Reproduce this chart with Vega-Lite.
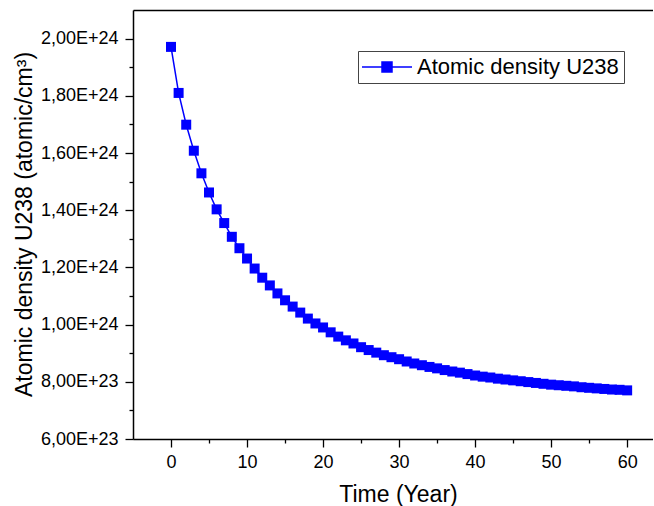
{
  "$schema": "https://vega.github.io/schema/vega-lite/v6.json",
  "width": 520,
  "height": 429,
  "autosize": {"type": "none"},
  "padding": {"left": 133, "top": 10, "right": 0, "bottom": 67},
  "background": "white",
  "view": {"stroke": "transparent", "strokeWidth": 0},
  "config": {
    "font": "Liberation Sans",
    "view": {"stroke": "transparent", "strokeWidth": 0},
    "axis": {
      "grid": false,
      "domainColor": "black",
      "domainWidth": 1.5,
      "tickColor": "black",
      "tickWidth": 1.3,
      "labelColor": "black",
      "labelFont": "Liberation Sans",
      "labelFontSize": 18,
      "titleFont": "Liberation Sans",
      "titleFontSize": 23,
      "titleFontWeight": "normal",
      "titleColor": "black"
    }
  },
  "data": {
    "values": [
      {"t": 0, "n": 1.971e24}, {"t": 1, "n": 1.810e24}, {"t": 2, "n": 1.699e24}, {"t": 3, "n": 1.608e24},
      {"t": 4, "n": 1.529e24}, {"t": 5, "n": 1.462e24}, {"t": 6, "n": 1.403e24}, {"t": 7, "n": 1.355e24},
      {"t": 8, "n": 1.307e24}, {"t": 9, "n": 1.267e24}, {"t": 10, "n": 1.231e24}, {"t": 11, "n": 1.196e24},
      {"t": 12, "n": 1.164e24}, {"t": 13, "n": 1.137e24}, {"t": 14, "n": 1.109e24}, {"t": 15, "n": 1.085e24},
      {"t": 16, "n": 1.063e24}, {"t": 17, "n": 1.042e24}, {"t": 18, "n": 1.021e24}, {"t": 19, "n": 1.004e24},
      {"t": 20, "n": 9.90e23}, {"t": 21, "n": 9.73e23}, {"t": 22, "n": 9.58e23}, {"t": 23, "n": 9.45e23},
      {"t": 24, "n": 9.34e23}, {"t": 25, "n": 9.21e23}, {"t": 26, "n": 9.11e23}, {"t": 27, "n": 9.02e23},
      {"t": 28, "n": 8.93e23}, {"t": 29, "n": 8.86e23}, {"t": 30, "n": 8.79e23}, {"t": 31, "n": 8.71e23},
      {"t": 32, "n": 8.64e23}, {"t": 33, "n": 8.58e23}, {"t": 34, "n": 8.52e23}, {"t": 35, "n": 8.47e23},
      {"t": 36, "n": 8.41e23}, {"t": 37, "n": 8.36e23}, {"t": 38, "n": 8.32e23}, {"t": 39, "n": 8.27e23},
      {"t": 40, "n": 8.22e23}, {"t": 41, "n": 8.18e23}, {"t": 42, "n": 8.15e23}, {"t": 43, "n": 8.11e23},
      {"t": 44, "n": 8.08e23}, {"t": 45, "n": 8.05e23}, {"t": 46, "n": 8.02e23}, {"t": 47, "n": 7.99e23},
      {"t": 48, "n": 7.96e23}, {"t": 49, "n": 7.93e23}, {"t": 50, "n": 7.90e23}, {"t": 51, "n": 7.88e23},
      {"t": 52, "n": 7.86e23}, {"t": 53, "n": 7.84e23}, {"t": 54, "n": 7.81e23}, {"t": 55, "n": 7.79e23},
      {"t": 56, "n": 7.77e23}, {"t": 57, "n": 7.75e23}, {"t": 58, "n": 7.73e23}, {"t": 59, "n": 7.72e23},
      {"t": 60, "n": 7.70e23}
    ]
  },
  "encoding": {
    "y": {
      "field": "n",
      "type": "quantitative",
      "scale": {"domain": [6e23, 2.1e24], "nice": false, "zero": false},
      "axis": {
        "title": "Atomic density U238 (atomic/cm³)",
        "values": [6e23, 7e23, 8e23, 9e23, 1e24, 1.1e24, 1.2e24, 1.3e24, 1.4e24, 1.5e24, 1.6e24, 1.7e24, 1.8e24, 1.9e24, 2e24],
        "labelExpr": "round(datum.value / 1e23) % 2 === 0 ? replace(upper(format(datum.value, '.2e')), '.', ',') : ''",
        "tickSize": {"condition": {"test": "round(datum.value / 1e23) % 2 === 0", "value": 8}, "value": 4},
        "labelPadding": 7,
        "titleX": -102,
        "titleY": 214,
        "titleAlign": "center",
        "titleBaseline": "alphabetic",
        "titleAngle": 270
      }
    }
  },
  "layer": [
    {
      "mark": {"type": "line", "color": "#0000ff", "strokeWidth": 1.5},
      "encoding": {
        "x": {
          "field": "t",
          "type": "quantitative",
          "scale": {"domain": [-5, 63.4], "nice": false, "zero": false},
          "axis": {
            "orient": "top",
            "title": null,
            "labels": false,
            "ticks": false,
            "domain": true
          }
        }
      }
    },
    {
      "mark": {"type": "point", "shape": "square", "filled": true, "size": 100, "opacity": 1},
      "encoding": {
        "x": {
          "field": "t",
          "type": "quantitative",
          "scale": {"domain": [-5, 63.4], "nice": false, "zero": false},
          "axis": {
            "orient": "bottom",
            "title": "Time (Year)",
            "values": [0, 5, 10, 15, 20, 25, 30, 35, 40, 45, 50, 55, 60],
            "labelExpr": "datum.value % 10 === 0 ? datum.label : ''",
            "tickSize": {"condition": {"test": "datum.value % 10 === 0", "value": 8}, "value": 4},
            "labelPadding": 6,
            "titleX": 265,
            "titleY": 62,
            "titleBaseline": "alphabetic"
          }
        },
        "color": {
          "datum": "Atomic density U238",
          "scale": {"range": ["#0000ff"]},
          "legend": {
            "title": null,
            "orient": "none",
            "legendX": 225,
            "legendY": 41,
            "strokeColor": "#444444",
            "fillColor": "white",
            "padding": 5,
            "cornerRadius": 0,
            "labelFont": "Liberation Sans",
            "labelFontSize": 22,
            "labelColor": "black",
            "labelLimit": 400,
            "labelOffset": 19,
            "symbolSize": 400,
            "symbolOffset": 13,
            "symbolType": "M-2.5,0H2.5M-0.5,-0.5H0.5V0.5H-0.5Z",
            "symbolStrokeWidth": 1.5,
            "symbolOpacity": 1,
            "encode": {
              "symbols": {
                "update": {
                  "stroke": {"value": "#0000ff"},
                  "fill": {"value": "#0000ff"},
                  "strokeWidth": {"value": 1.5},
                  "opacity": {"value": 1}
                }
              }
            }
          }
        }
      }
    }
  ],
  "resolve": {"axis": {"x": "independent"}}
}
